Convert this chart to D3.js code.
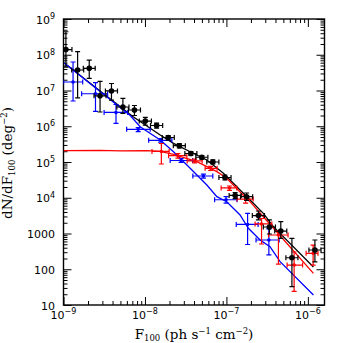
<!DOCTYPE html>
<html>
<head>
<meta charset="utf-8">
<script src="https://cdn.jsdelivr.net/npm/d3@7"></script>
<style>
  html, body { margin: 0; padding: 0; background: #fff; }
  svg { display: block; }
</style>
</head>
<body>
<div id="chart"></div>
<script>
// black points (all data)
var blackF   = [1.07e-9, 1.49e-9, 2.07e-9, 2.81e-9, 3.88e-9, 5.36e-9, 7.43e-9, 1.01e-8, 1.39e-8, 1.93e-8, 2.64e-8,
                3.66e-8, 4.99e-8, 6.81e-8, 9.59e-8, 1.28e-7, 1.77e-7, 2.47e-7, 3.37e-7, 4.65e-7, 6.37e-7, 1.22e-6];
var blackFlo = [0.90e-9, 1.26e-9, 1.75e-9, 2.37e-9, 3.27e-9, 4.52e-9, 6.26e-9, 8.52e-9, 1.17e-8, 1.63e-8, 2.23e-8,
                3.09e-8, 4.21e-8, 5.74e-8, 8.09e-8, 1.08e-7, 1.49e-7, 2.08e-7, 2.84e-7, 3.92e-7, 5.37e-7, 1.03e-6];
var blackFhi = [1.27e-9, 1.77e-9, 2.45e-9, 3.33e-9, 4.60e-9, 6.36e-9, 8.81e-9, 1.20e-8, 1.65e-8, 2.29e-8, 3.13e-8,
                4.34e-8, 5.92e-8, 8.08e-8, 1.14e-7, 1.52e-7, 2.10e-7, 2.93e-7, 4.00e-7, 5.51e-7, 7.55e-7, 1.45e-6];
var blackN   = [1.40e8, 3.74e7, 4.18e7, 7.1e6, 9.7e6, 3.45e6, 2.85e6, 1.40e6, 1.05e6, 4.84e5, 2.86e5,
                1.73e5, 1.36e5, 1.0e5, 3.68e4, 1.16e4, 1.07e4, 3.18e3, 1.52e3, 1.17e3, 210, 345];
var blackNlo = [4.5e7, 6.2e6, 2.19e7, 2.5e6, 5.4e6, 2.3e6, 2.0e6, 1.08e6, 8.9e5, 4.1e5, 2.46e5,
                1.52e5, 1.21e5, 8.8e4, 3.14e4, 9.5e3, 8.4e3, 2.39e3, 968, 734, 32.5, 160];
var blackNhi = [4.4e8, 1.22e8, 7.1e7, 1.79e7, 1.57e7, 6.05e6, 3.8e6, 1.76e6, 1.23e6, 5.5e5, 3.25e5,
                1.94e5, 1.52e5, 1.14e5, 4.33e4, 1.40e4, 1.36e4, 4.26e3, 2.39e3, 2.14e3, 734, 658];

// blue points
var blueF   = [1.31e-9, 2.47e-9, 4.41e-9, 8.26e-9, 1.56e-8, 2.78e-8, 5.22e-8, 9.9e-8, 1.82e-7, 3.32e-7];
var blueFlo = [1.0e-9, 1.67e-9, 3.15e-9, 5.96e-9, 1.11e-8, 2.04e-8, 3.87e-8, 7.16e-8, 1.32e-7, 2.31e-7];
var blueFhi = [1.72e-9, 3.48e-9, 6.14e-9, 1.16e-8, 2.14e-8, 3.85e-8, 6.81e-8, 1.35e-7, 2.45e-7, 4.44e-7];
var blueN   = [1.73e7, 8.1e6, 2.43e6, 8.2e5, 4.05e5, 1.10e5, 4.06e4, 8.8e3, 1.79e3, 658];
var blueNlo = [5.08e6, 2.59e6, 1.21e6, 7.1e5, 3.62e5, 9.7e4, 3.56e4, 7.1e3, 492, 251];
var blueNhi = [6.27e7, 1.67e7, 4.06e6, 9.2e5, 4.5e5, 1.25e5, 4.6e4, 1.08e4, 3.67e3, 1.34e3];

// red points
var redF   = [1.59e-8, 2.54e-8, 4.07e-8, 6.4e-8, 1.09e-7, 1.72e-7, 2.70e-7, 4.35e-7, 6.78e-7, 1.16e-6];
var redFlo = [1.22e-8, 1.95e-8, 3.30e-8, 5.48e-8, 8.61e-8, 1.35e-7, 2.25e-7, 3.29e-7, 5.56e-7, 9.51e-7];
var redFhi = [1.98e-8, 3.27e-8, 5.04e-8, 7.69e-8, 1.34e-7, 2.13e-7, 3.61e-7, 5.71e-7, 8.61e-7, 1.33e-6];
var redN   = [1.97e5, 1.50e5, 1.07e5, 6.67e4, 1.88e4, 9.2e3, 1.85e3, 908, 131, 279];
var redNlo = [8.8e4, 1.29e5, 9.4e4, 5.78e4, 1.6e4, 7.1e3, 508, 140, 23.9, 131];
var redNhi = [3.29e5, 1.73e5, 1.21e5, 7.5e4, 2.13e4, 1.12e4, 2.63e3, 1.21e3, 304, 476];

// model curves
var blackLineF = [1.02e-9, 7.16e-9, 1.16e-8, 1.54e-8, 2.24e-8, 3.59e-8, 5.75e-8, 9.18e-8, 1.47e-7, 2.14e-7, 2.84e-7, 3.77e-7, 1.17e-6];
var blackLineN = [5.88e7, 1.85e6, 8.77e5, 5.69e5, 3.33e5, 1.94e5, 1.14e5, 4.83e4, 1.65e4, 7.0e3, 3.67e3, 1.55e3, 116];
var redLineF = [1e-9, 2.8e-9, 5e-9, 1.05e-8, 1.54e-8, 2.24e-8, 4.34e-8, 7.63e-8, 1.01e-7, 1.47e-7, 1.95e-7, 2.84e-7, 1.17e-6];
var redLineN = [2.07e5, 2.12e5, 2.05e5, 2.07e5, 1.97e5, 1.64e5, 1.02e5, 5.36e4, 3.50e4, 1.45e4, 7.77e3, 2.95e3, 77];
var blueLineF = [1.02e-9, 6.6e-9, 8.73e-9, 1.54e-8, 2.24e-8, 3.59e-8, 5.75e-8, 7.63e-8, 1.01e-7, 1.47e-7, 1.86e-7, 2.59e-7, 3.43e-7, 4.56e-7, 1.17e-6];
var blueLineN = [5.88e7, 2.0e6, 9.7e5, 4.12e5, 1.94e5, 6.67e4, 2.28e4, 1.07e4, 7.77e3, 3.29e3, 1.40e3, 658, 428, 163, 19.1];

// ticks
var xMajor = [1e-9, 1e-8, 1e-7, 1e-6];
var xMajorExp = ["\u22129", "\u22128", "\u22127", "\u22126"];
var yMajor = [10, 100, 1000, 1e4, 1e5, 1e6, 1e7, 1e8, 1e9];
var yMajorBase = ["10", "100", "1000", "10", "10", "10", "10", "10", "10"];
var yMajorExp = ["", "", "", "4", "5", "6", "7", "8", "9"];

var W = 343, H = 343;
// plot frame (note: "top" is reserved on window, so use p* names)
var pLeft = 63.5, pRight = 324.5, pTop = 19, pBottom = 305;

var svg = d3.select('#chart').append('svg')
    .attr('width', W).attr('height', H);

var x = d3.scaleLog().domain([1e-9, 1.6e-6]).range([pLeft, pRight]);
var y = d3.scaleLog().domain([10, 1e9]).range([pBottom, pTop]);

function minors(lo, hi) {
    var out = [];
    for (var e = Math.floor(Math.log10(lo)); e <= Math.ceil(Math.log10(hi)); e++) {
        for (var k = 2; k <= 9; k++) {
            var v = k * Math.pow(10, e);
            if (v > lo && v < hi) out.push(v);
        }
    }
    return out;
}
var xMinor = minors(1e-9, 1.6e-6);
var yMinor = minors(10, 1e9);

svg.append('clipPath').attr('id', 'plotclip')
    .append('rect').attr('x', pLeft).attr('y', pTop)
    .attr('width', pRight - pLeft).attr('height', pBottom - pTop);

// tick marks on all four sides, pointing in
function drawAxis(axis, tx, ty) {
    var g = svg.append('g').attr('transform', 'translate(' + tx + ',' + ty + ')').call(axis);
    g.select('.domain').remove();
    g.selectAll('text').remove();
    g.selectAll('line').attr('stroke', '#000').attr('stroke-width', 1);
}
[[xMajor, 8], [xMinor, 4]].forEach(function (t) {
    drawAxis(d3.axisBottom(x).tickValues(t[0]).tickSize(-t[1]).tickSizeOuter(0), 0, pBottom);
    drawAxis(d3.axisTop(x).tickValues(t[0]).tickSize(-t[1]).tickSizeOuter(0), 0, pTop);
});
[[yMajor, 8], [yMinor, 4]].forEach(function (t) {
    drawAxis(d3.axisLeft(y).tickValues(t[0]).tickSize(-t[1]).tickSizeOuter(0), pLeft, 0);
    drawAxis(d3.axisRight(y).tickValues(t[0]).tickSize(-t[1]).tickSizeOuter(0), pRight, 0);
});

svg.append('rect')
    .attr('x', pLeft).attr('y', pTop)
    .attr('width', pRight - pLeft).attr('height', pBottom - pTop)
    .attr('fill', 'none').attr('stroke', '#000').attr('stroke-width', 1.4);

// tick labels
var tickFont = 'DejaVu Sans, sans-serif';
yMajor.forEach(function (v, i) {
    var t = svg.append('text')
        .attr('x', 55).attr('y', y(v) + 4.5)
        .attr('text-anchor', 'end')
        .attr('font-family', tickFont).attr('font-size', 11)
        .text(yMajorBase[i]);
    if (yMajorExp[i]) {
        t.append('tspan').attr('dy', -4.5).attr('font-size', 8).text(yMajorExp[i]);
    }
});
xMajor.forEach(function (v, i) {
    var t = svg.append('text')
        .attr('x', x(v)).attr('y', 318.5)
        .attr('text-anchor', 'middle')
        .attr('font-family', tickFont).attr('font-size', 11)
        .text('10');
    t.append('tspan').attr('dy', -4.5).attr('font-size', 8).text(xMajorExp[i]);
});

// axis titles
var titleFont = 'DejaVu Serif, serif';
var xt = svg.append('text')
    .attr('x', (pLeft + pRight) / 2).attr('y', 338.5)
    .attr('text-anchor', 'middle')
    .attr('font-family', titleFont).attr('font-size', 13.5);
xt.append('tspan').text('F');
xt.append('tspan').attr('font-size', 8.5).attr('dy', 2.5).text('100');
xt.append('tspan').attr('dy', -2.5).text(' (ph s');
xt.append('tspan').attr('font-size', 8.5).attr('dy', -5).text('\u22121');
xt.append('tspan').attr('dy', 5).text(' cm');
xt.append('tspan').attr('font-size', 8.5).attr('dy', -5).text('\u22122');
xt.append('tspan').attr('dy', 5).text(')');

var yt = svg.append('text')
    .attr('transform', 'translate(12,163) rotate(-90)')
    .attr('text-anchor', 'middle')
    .attr('font-family', titleFont).attr('font-size', 13.5);
yt.append('tspan').text('dN/dF');
yt.append('tspan').attr('font-size', 8.5).attr('dy', 2.5).text('100');
yt.append('tspan').attr('dy', -2.5).text(' (deg');
yt.append('tspan').attr('font-size', 8.5).attr('dy', -5).text('\u22122');
yt.append('tspan').attr('dy', 5).text(')');

var plot = svg.append('g').attr('clip-path', 'url(#plotclip)');

// curves
var line = d3.line().x(function (d) { return x(d[0]); }).y(function (d) { return y(d[1]); });
function drawCurve(fs, ns, color) {
    plot.append('path')
        .datum(d3.zip(fs, ns))
        .attr('d', line)
        .attr('fill', 'none').attr('stroke', color).attr('stroke-width', 1.3);
}
drawCurve(blackLineF, blackLineN, '#000');
drawCurve(redLineF, redLineN, '#ff0000');
drawCurve(blueLineF, blueLineN, '#0000ff');

// points with error bars
function drawPoints(F, Flo, Fhi, N, Nlo, Nhi, color, r) {
    var cap = 2.5;
    var data = F.map(function (f, i) {
        return { f: f, flo: Flo[i], fhi: Fhi[i], n: N[i], nlo: Nlo[i], nhi: Nhi[i] };
    });
    var g = plot.append('g').attr('stroke', color).attr('stroke-width', 1.2);
    var pts = g.selectAll('g').data(data).enter().append('g');
    pts.append('line')
        .attr('x1', function (d) { return x(d.flo); }).attr('x2', function (d) { return x(d.fhi); })
        .attr('y1', function (d) { return y(d.n); }).attr('y2', function (d) { return y(d.n); });
    pts.append('line')
        .attr('x1', function (d) { return x(d.f); }).attr('x2', function (d) { return x(d.f); })
        .attr('y1', function (d) { return y(d.nlo); }).attr('y2', function (d) { return y(d.nhi); });
    ['flo', 'fhi'].forEach(function (k) {
        pts.append('line')
            .attr('x1', function (d) { return x(d[k]); }).attr('x2', function (d) { return x(d[k]); })
            .attr('y1', function (d) { return y(d.n) - cap; }).attr('y2', function (d) { return y(d.n) + cap; });
    });
    ['nlo', 'nhi'].forEach(function (k) {
        pts.append('line')
            .attr('x1', function (d) { return x(d.f) - cap; }).attr('x2', function (d) { return x(d.f) + cap; })
            .attr('y1', function (d) { return y(d[k]); }).attr('y2', function (d) { return y(d[k]); });
    });
    pts.append('circle')
        .attr('cx', function (d) { return x(d.f); }).attr('cy', function (d) { return y(d.n); })
        .attr('r', r).attr('fill', color).attr('stroke', 'none');
}
drawPoints(blueF, blueFlo, blueFhi, blueN, blueNlo, blueNhi, '#0000ff', 1.8);
drawPoints(redF, redFlo, redFhi, redN, redNlo, redNhi, '#ff0000', 1.8);
drawPoints(blackF, blackFlo, blackFhi, blackN, blackNlo, blackNhi, '#000', 2.8);
</script>
</body>
</html>
